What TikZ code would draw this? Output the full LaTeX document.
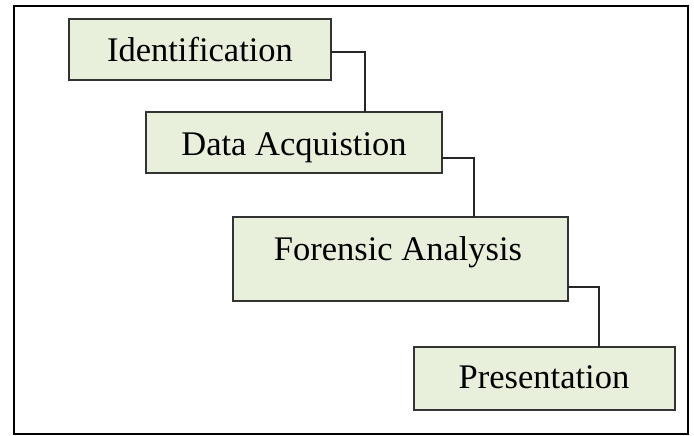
\documentclass[tikz,border=0pt]{standalone}
\usepackage{fontspec}
\setmainfont{Liberation Serif}
\begin{document}
\begin{tikzpicture}[x=1pt,y=-1pt,
  stepbox/.style={draw=black!80,line width=1.4pt,fill=boxfill,inner sep=0pt,outer sep=0pt},
  lbl/.style={inner sep=0pt,anchor=base,font=\fontsize{34.5}{40}\selectfont},
  conn/.style={draw=black!85,line width=1.3pt}]
\definecolor{boxfill}{RGB}{232,239,218}
\useasboundingbox (0,0) rectangle (694,436);
\draw[line width=2.3pt] (14,6) rectangle (688,434);
\node[stepbox,minimum width=262pt,minimum height=61pt] (b1) at (200,49.5) {};
\node[stepbox,minimum width=296pt,minimum height=61pt] (b2) at (294,142.5) {};
\node[stepbox,minimum width=335pt,minimum height=84pt] (b3) at (400.5,259) {};
\node[stepbox,minimum width=261pt,minimum height=63pt] (b4) at (544.5,378.5) {};
\node[lbl] (t1) at (200,62) {Identification};
\node[lbl] (t2) at (294,155) {Data Acquistion};
\node[lbl] (t3) at (398,260) {Forensic Analysis};
\node[lbl] (t4) at (544,388) {Presentation};
\draw[conn] ([yshift=-2.5pt]b1.east) -| ([xshift=71pt]b2.north);
\draw[conn] ([yshift=-15.5pt]b2.east) -| ([xshift=73.5pt]b3.north);
\draw[conn] ([yshift=-28pt]b3.east) -| ([xshift=54.5pt]b4.north);
\end{tikzpicture}
\end{document}
